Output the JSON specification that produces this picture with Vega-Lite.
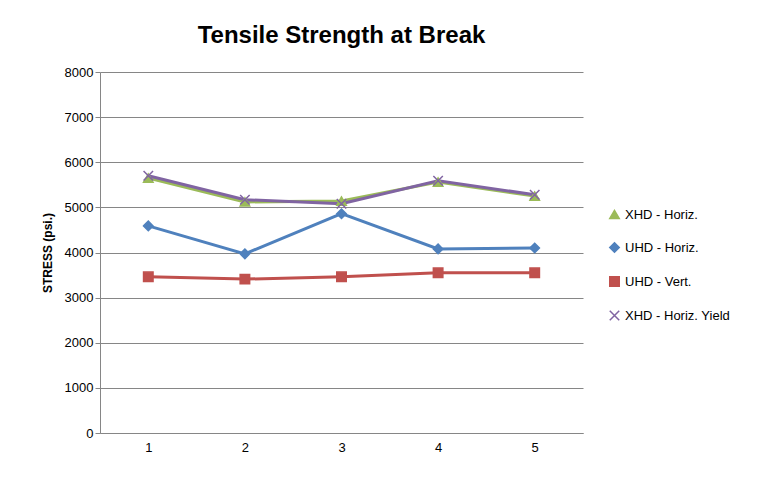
{
  "$schema": "https://vega.github.io/schema/vega-lite/v6.json",
  "autosize": "none",
  "width": 483,
  "height": 361,
  "padding": {"left": 100, "top": 72, "right": 201, "bottom": 47},
  "background": "white",
  "title": {"text": "Tensile Strength at Break", "fontSize": 24, "font": "Liberation Sans", "fontWeight": "bold", "color": "#000000", "anchor": "middle", "offset": 18},
  "config": {"view": {"stroke": null}, "font": "Liberation Sans"},
  "data": {"values": [
    {"x": "1", "s": "XHD - Horiz.", "v": 5650},
    {"x": "2", "s": "XHD - Horiz.", "v": 5120},
    {"x": "3", "s": "XHD - Horiz.", "v": 5140},
    {"x": "4", "s": "XHD - Horiz.", "v": 5560},
    {"x": "5", "s": "XHD - Horiz.", "v": 5250},
    {"x": "1", "s": "UHD - Horiz.", "v": 4590},
    {"x": "2", "s": "UHD - Horiz.", "v": 3970},
    {"x": "3", "s": "UHD - Horiz.", "v": 4860},
    {"x": "4", "s": "UHD - Horiz.", "v": 4080},
    {"x": "5", "s": "UHD - Horiz.", "v": 4100},
    {"x": "1", "s": "UHD - Vert.", "v": 3460},
    {"x": "2", "s": "UHD - Vert.", "v": 3410},
    {"x": "3", "s": "UHD - Vert.", "v": 3460},
    {"x": "4", "s": "UHD - Vert.", "v": 3550},
    {"x": "5", "s": "UHD - Vert.", "v": 3550},
    {"x": "1", "s": "XHD - Horiz. Yield", "v": 5700},
    {"x": "2", "s": "XHD - Horiz. Yield", "v": 5170},
    {"x": "3", "s": "XHD - Horiz. Yield", "v": 5080},
    {"x": "4", "s": "XHD - Horiz. Yield", "v": 5590},
    {"x": "5", "s": "XHD - Horiz. Yield", "v": 5280}
  ]},
  "encoding": {
    "x": {"field": "x", "type": "ordinal", "title": null,
      "scale": {"type": "point", "padding": 0.5},
      "axis": {"labelAngle": 0, "labelFontSize": 13, "labelColor": "#000", "domainColor": "#868686", "ticks": false, "labelPadding": 8}},
    "y": {"field": "v", "type": "quantitative", "title": "STRESS (psi.)",
      "scale": {"domain": [0, 8000], "nice": false},
      "axis": {"values": [0,1000,2000,3000,4000,5000,6000,7000,8000], "format": "d", "gridColor": "#868686", "domainColor": "#868686", "tickColor": "#868686", "labelFontSize": 13, "labelColor": "#000", "titleFontSize": 12, "titleFontWeight": "bold", "titleColor": "#000", "titlePadding": 10}},
    "color": {"field": "s", "type": "nominal", "title": null,
      "sort": ["XHD - Horiz.", "UHD - Horiz.", "UHD - Vert.", "XHD - Horiz. Yield"],
      "scale": {"domain": ["XHD - Horiz.", "UHD - Horiz.", "UHD - Vert.", "XHD - Horiz. Yield"], "range": ["#9BBB59", "#4F81BD", "#C0504D", "#8064A2"]},
      "legend": {"orient": "none", "legendX": 508, "legendY": 136, "labelFontSize": 13, "labelColor": "#000", "rowPadding": 17, "symbolSize": 90}}
  },
  "layer": [
    {"mark": {"type": "line", "strokeWidth": 3}},
    {"mark": {"type": "point", "filled": true, "size": 90, "strokeWidth": 1.5, "opacity": 1},
      "encoding": {"shape": {"field": "s", "type": "nominal", "legend": null,
        "scale": {"domain": ["XHD - Horiz.", "UHD - Horiz.", "UHD - Vert.", "XHD - Horiz. Yield"], "range": ["triangle-up", "diamond", "square", "M-1,-1L1,1M-1,1L1,-1"]}},
        "stroke": {"field": "s", "type": "nominal", "legend": null, "scale": {"domain": ["XHD - Horiz.", "UHD - Horiz.", "UHD - Vert.", "XHD - Horiz. Yield"], "range": ["#9BBB59", "#4F81BD", "#C0504D", "#8064A2"]}}}}
  ]
}
